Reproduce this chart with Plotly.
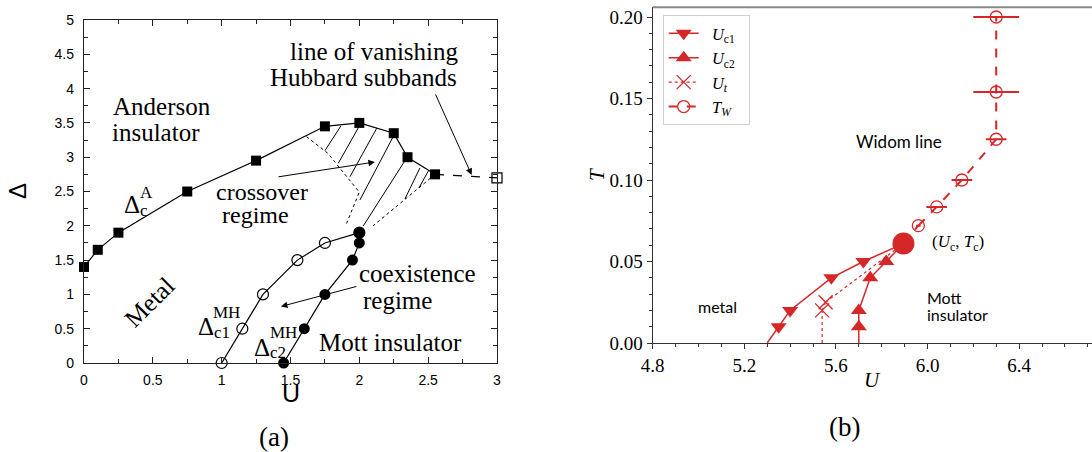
import plotly.graph_objects as go

# ---------------- Panel (a) data ----------------
dA_u = [0.0, 0.1, 0.25, 0.75, 1.25, 1.75, 2.0, 2.25, 2.35, 2.55]
dA_d = [1.40, 1.65, 1.90, 2.50, 2.95, 3.45, 3.50, 3.35, 3.00, 2.75]
hub_u = [2.55, 3.0]
hub_d = [2.75, 2.70]
c1_u = [1.0, 1.15, 1.30, 1.55, 1.75, 2.0]
c1_d = [0.0, 0.5, 1.0, 1.5, 1.75, 1.9]
c2_u = [1.45, 1.6, 1.75, 1.95, 2.0, 2.0]
c2_d = [0.0, 0.5, 1.0, 1.5, 1.75, 1.9]
crossL_u = [1.616, 1.77, 2.0, 1.90]
crossL_d = [3.30, 3.06, 2.49, 2.0]
crossR_u = [2.55, 2.33, 2.10]
crossR_d = [2.75, 2.39, 2.0]
hatch_u0 = [1.750, 1.847, 1.932, 2.004, 2.028, 2.331, 2.433]
hatch_d0 = [3.095, 2.911, 2.716, 2.376, 1.997, 2.391, 2.551]
hatch_u1 = [1.866, 2.004, 2.126, 2.246, 2.353, 2.440, 2.505]
hatch_d1 = [3.455, 3.469, 3.421, 3.299, 3.017, 2.843, 2.813]

# ---------------- Panel (b) data ----------------
uc1_U = [5.35, 5.40, 5.58, 5.72]
uc1_T = [0.010, 0.020, 0.040, 0.050]
uc1_foot = 5.30
uc2_U = [5.70, 5.70, 5.75, 5.82]
uc2_T = [0.010, 0.020, 0.040, 0.050]
uc2_foot = 5.70
ut_U = [5.54, 5.555]
ut_T = [0.020, 0.025]
ut_foot = 5.54
tw_U = [5.96, 6.04, 6.15, 6.30, 6.30, 6.30]
tw_T = [0.072, 0.0835, 0.100, 0.125, 0.154, 0.200]
tw_err = [0.01, 0.045, 0.045, 0.045, 0.10, 0.10]
crit_U = [5.895]
crit_T = [0.061]

RED = "#d62728"
SERIF = "Liberation Serif"
SANS = "Liberation Sans"
SP = "&nbsp;"

fig = go.Figure()

# ---- panel (a) traces ----
def seg_xy(u0, d0, u1, d1):
    xs, ys = [], []
    for a, b, c, d in zip(u0, d0, u1, d1):
        xs += [a, c, None]
        ys += [b, d, None]
    return xs, ys

hx, hy = seg_xy(hatch_u0, hatch_d0, hatch_u1, hatch_d1)
fig.add_trace(go.Scatter(x=hx, y=hy, mode="lines", line=dict(color="black", width=1),
                         showlegend=False, xaxis="x", yaxis="y", hoverinfo="skip"))
for uu, dd in [(crossL_u, crossL_d), (crossR_u, crossR_d)]:
    fig.add_trace(go.Scatter(x=uu, y=dd, mode="lines",
                             line=dict(color="black", width=1, dash="dot"),
                             showlegend=False, xaxis="x", yaxis="y"))
fig.add_trace(go.Scatter(x=hub_u, y=hub_d, mode="lines",
                         line=dict(color="black", width=1.2, dash="dash"),
                         showlegend=False, xaxis="x", yaxis="y"))
fig.add_trace(go.Scatter(x=hub_u[-1:], y=hub_d[-1:], mode="markers",
                         marker=dict(symbol="square-open", size=10, color="black",
                                     line=dict(width=1.2)),
                         showlegend=False, xaxis="x", yaxis="y", cliponaxis=False))
fig.add_trace(go.Scatter(x=dA_u, y=dA_d, mode="lines+markers",
                         line=dict(color="black", width=1.2),
                         marker=dict(symbol="square", size=10, color="black"),
                         showlegend=False, xaxis="x", yaxis="y", cliponaxis=False))
fig.add_trace(go.Scatter(x=c1_u, y=c1_d, mode="lines+markers",
                         line=dict(color="black", width=1.2),
                         marker=dict(symbol="circle-open", size=11, color="black",
                                     line=dict(width=1.2)),
                         showlegend=False, xaxis="x", yaxis="y", cliponaxis=False))
fig.add_trace(go.Scatter(x=c2_u, y=c2_d, mode="lines+markers",
                         line=dict(color="black", width=1.2),
                         marker=dict(symbol="circle", size=11, color="black"),
                         showlegend=False, xaxis="x", yaxis="y", cliponaxis=False))

# ---- panel (b) traces ----
fig.add_trace(go.Scatter(x=uc1_U, y=uc1_T, mode="lines+markers",
                         name=SP * 2 + "<i>U</i><sub>c1</sub>" + SP * 2,
                         line=dict(color=RED, width=1.5),
                         marker=dict(symbol="triangle-down", size=14, color=RED),
                         xaxis="x2", yaxis="y2"))
fig.add_trace(go.Scatter(x=uc2_U, y=uc2_T, mode="lines+markers",
                         name=SP * 2 + "<i>U</i><sub>c2</sub>",
                         line=dict(color=RED, width=1.5),
                         marker=dict(symbol="triangle-up", size=14, color=RED),
                         xaxis="x2", yaxis="y2"))
fig.add_trace(go.Scatter(x=ut_U, y=ut_T, mode="lines+markers",
                         name=SP * 2 + "<i>U<sub>t</sub></i>",
                         line=dict(color=RED, width=1.2, dash="dot"),
                         marker=dict(symbol="x-thin-open", size=14, color=RED,
                                     line=dict(width=1.3, color=RED)),
                         xaxis="x2", yaxis="y2"))
fig.add_trace(go.Scatter(x=tw_U, y=tw_T, mode="lines+markers",
                         name=SP * 2 + "<i>T<sub>W</sub></i>",
                         line=dict(color=RED, width=2, dash="dash"),
                         marker=dict(symbol="circle-open", size=12, color=RED,
                                     line=dict(width=1.3, color=RED)),
                         error_x=dict(type="data", array=tw_err, symmetric=True,
                                      thickness=2, width=0, color=RED),
                         xaxis="x2", yaxis="y2", cliponaxis=False))
# extension segments (to T=0 and to the critical point)
fig.add_trace(go.Scatter(x=[uc1_foot, uc1_U[0], None, uc1_U[-1], crit_U[0]],
                         y=[0, uc1_T[0], None, uc1_T[-1], crit_T[0]], mode="lines",
                         line=dict(color=RED, width=1.5), showlegend=False,
                         xaxis="x2", yaxis="y2"))
fig.add_trace(go.Scatter(x=[uc2_foot, uc2_U[0], None, uc2_U[-1], crit_U[0]],
                         y=[0, uc2_T[0], None, uc2_T[-1], crit_T[0]], mode="lines",
                         line=dict(color=RED, width=1.5), showlegend=False,
                         xaxis="x2", yaxis="y2"))
fig.add_trace(go.Scatter(x=[ut_foot, ut_U[0], None, ut_U[-1], crit_U[0]],
                         y=[0, ut_T[0], None, ut_T[-1], crit_T[0]], mode="lines",
                         line=dict(color=RED, width=1.2, dash="dot"), showlegend=False,
                         xaxis="x2", yaxis="y2"))
fig.add_trace(go.Scatter(x=[crit_U[0], tw_U[0]], y=[crit_T[0], tw_T[0]], mode="lines",
                         line=dict(color=RED, width=2, dash="dash"), showlegend=False,
                         xaxis="x2", yaxis="y2"))
fig.add_trace(go.Scatter(x=crit_U, y=crit_T, mode="markers",
                         marker=dict(symbol="circle", size=22, color=RED),
                         showlegend=False, xaxis="x2", yaxis="y2"))

annotations = []

def txt(x, y, s, size, family=SERIF, ref=("x", "y"), angle=0, xanchor="center", **kw):
    annotations.append(dict(x=x, y=y, xref=ref[0], yref=ref[1], text=s, showarrow=False,
                            font=dict(family=family, size=size, color="black"),
                            textangle=angle, xanchor=xanchor, yanchor="middle", **kw))

def arrow(x0, y0, x1, y1):
    annotations.append(dict(x=x1, y=y1, ax=x0, ay=y0, xref="x", yref="y", axref="x", ayref="y",
                            text="", showarrow=True, arrowhead=2, arrowsize=1.3,
                            arrowwidth=1, arrowcolor="black"))

# panel (a) texts
txt(2.113, 4.534, "line of vanishing", 25)
txt(2.030, 4.155, "Hubbard subbands", 25)
txt(0.566, 3.732, "Anderson", 25)
txt(0.523, 3.353, "insulator", 25)
txt(1.293, 2.493, "crossover", 24)
txt(1.249, 2.157, "regime", 24)
txt(0.472, 0.889, "Metal", 25, angle=-45)
txt(2.426, 1.312, "coexistence", 25)
txt(2.277, 0.918, "regime", 25)
txt(2.226, 0.306, "Mott insulator", 25)
# Delta labels
txt(0.349, 2.31, "Δ", 25)
txt(0.452, 2.49, "A", 17)
txt(0.438, 2.22, "c", 17)
txt(0.887, 0.525, "Δ", 25)
txt(1.035, 0.74, "MH", 17)
txt(1.0, 0.44, "c1", 17)
txt(1.293, 0.22, "Δ", 25)
txt(1.452, 0.45, "MH", 17)
txt(1.412, 0.16, "c2", 17)
arrow(2.549, 3.936, 2.816, 2.741)
arrow(1.402, 2.711, 2.113, 2.930)
arrow(1.990, 1.122, 1.431, 0.824)

# axis titles and panel labels (paper coords)
txt(0.0156, 0.5774, "Δ", 24, family=SANS, ref=("paper", "paper"), angle=-90)
txt(0.2665, 0.131, "U", 25, family=SANS, ref=("paper", "paper"))
txt(0.2509, 0.033, "(a)", 27, ref=("paper", "paper"))
txt(0.7738, 0.055, "(b)", 27, ref=("paper", "paper"))
txt(0.5467, 0.615, "<i>T</i>", 21, ref=("paper", "paper"), angle=-90)
txt(0.7989, 0.159, "<i>U</i>", 21, ref=("paper", "paper"))

# panel (b) texts
txt(5.875, 0.1235, "Widom line", 17, family="Lato", ref=("x2", "y2"))
txt(5.085, 0.0227, "metal", 16, family="Lato", ref=("x2", "y2"))
txt(5.99, 0.0278, "Mott", 16, family="Lato", ref=("x2", "y2"), xanchor="left")
txt(5.99, 0.0176, "insulator", 16, family="Lato", ref=("x2", "y2"), xanchor="left")
txt(6.01, 0.0612, "(<i>U</i><sub>c</sub>, <i>T</i><sub>c</sub>)", 17, ref=("x2", "y2"), xanchor="left")

W, H = 1092, 452
fig.update_layout(
    width=W, height=H, autosize=False, margin=dict(l=0, r=0, t=0, b=0, autoexpand=False),
    plot_bgcolor="white", paper_bgcolor="white",
    annotations=annotations,
    xaxis=dict(domain=[84 / W, 497 / W], range=[0, 3], dtick=0.5, tick0=0, automargin=False,
               showline=True, linecolor="#222", linewidth=1.3, mirror="ticks",
               ticks="inside", ticklen=6, tickcolor="#222", tickwidth=1,
               minor=dict(dtick=0.25, ticks="inside", ticklen=3.5, tickcolor="#222"),
               showgrid=False, zeroline=False, anchor="y",
               tickfont=dict(family=SANS, size=14, color="black"), ticklabelstandoff=4),
    yaxis=dict(domain=[(H - 363) / H, (H - 20) / H], range=[0, 5], dtick=0.5, tick0=0,
               automargin=False,
               showline=True, linecolor="#222", linewidth=1.3, mirror="ticks",
               ticks="inside", ticklen=6, tickcolor="#222", tickwidth=1,
               minor=dict(dtick=0.25, ticks="inside", ticklen=3.5, tickcolor="#222"),
               showgrid=False, zeroline=False, anchor="x",
               tickfont=dict(family=SANS, size=14, color="black"), ticklabelstandoff=6),
    xaxis2=dict(domain=[652.7 / W, 1.0], range=[4.8, 4.8 + 439.3 / 229], dtick=0.4, tick0=4.8,
                automargin=False,
                tickformat=".1f", showline=True, linecolor="#333", linewidth=1.2,
                ticks="outside", ticklen=5, tickcolor="#333",
                minor=dict(dtick=0.1, ticks="outside", ticklen=3, tickcolor="#333"),
                showgrid=False, zeroline=False, anchor="y2",
                tickfont=dict(family=SERIF, size=19, color="black")),
    yaxis2=dict(domain=[(H - 343) / H, (H - 7.3) / H], range=[0, 335.7 / 1630], dtick=0.05,
                automargin=False,
                tick0=0, tickformat=".2f", showline=True, linecolor="#333", linewidth=1.2,
                ticks="outside", ticklen=5, tickcolor="#333",
                minor=dict(dtick=0.01, ticks="outside", ticklen=3, tickcolor="#333"),
                showgrid=False, zeroline=False, anchor="x2",
                tickfont=dict(family=SERIF, size=19, color="black")),
    shapes=[dict(type="line", xref="x2 domain", yref="y2 domain", x0=0, x1=1, y0=1, y1=1,
                 line=dict(color="#888", width=2))],
    legend=dict(x=662.7 / W, y=1 - 15 / H, xanchor="left", yanchor="top",
                bordercolor="#d0d0d0", borderwidth=1, bgcolor="rgba(255,255,255,0.9)",
                font=dict(family=SERIF, size=16.5, color="black"), tracegroupgap=0),
    showlegend=True,
)

fig.write_html("out.html")
